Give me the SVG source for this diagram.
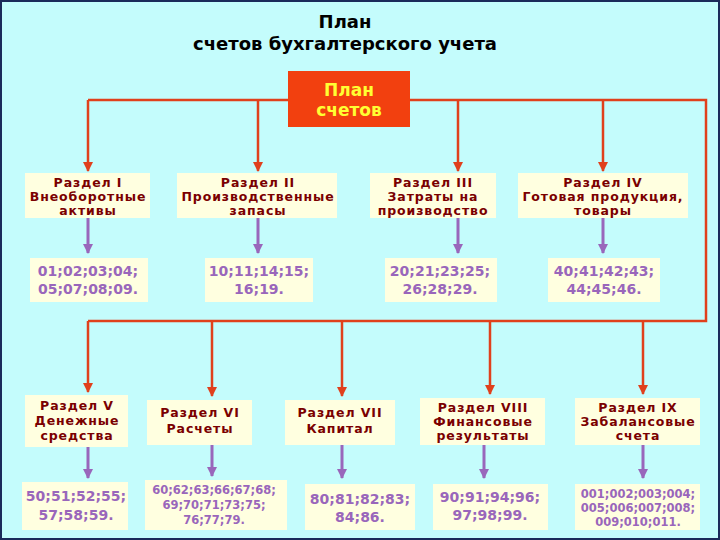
<svg xmlns="http://www.w3.org/2000/svg" width="720" height="540" viewBox="0 0 720 540">
<style>
.sec rect{fill:#ffffe0}
.sec text{font-family:"DejaVu Sans",sans-serif;font-weight:bold;font-size:12.5px;letter-spacing:0.9px;fill:#7a0000;text-anchor:middle}
.code rect{fill:#ffffe0}
.code text{font-family:"DejaVu Sans",sans-serif;font-weight:bold;font-size:14px;fill:#9966bb;text-anchor:middle}
.code text.s{font-size:11.5px}
.r{stroke:#e0401c;stroke-width:2.5;fill:none}
.rl{stroke:#e0401c;stroke-width:2.5;fill:none;marker-end:url(#ar)}
.p{stroke:#9966bb;stroke-width:3;fill:none;marker-end:url(#ap)}
</style>
<defs>
<marker id="ar" viewBox="0 0 10 10" refX="9" refY="5" markerWidth="4" markerHeight="4" orient="auto"><path d="M0,0L10,5L0,10z" fill="#e0401c"/></marker>
<marker id="ap" viewBox="0 0 10 10" refX="9" refY="5" markerWidth="3.5" markerHeight="3.5" orient="auto"><path d="M0,0L10,5L0,10z" fill="#9966bb"/></marker>
</defs>
<rect x="0" y="0" width="720" height="540" fill="#c4fcfc"/>
<rect x="1" y="1" width="718" height="538" fill="none" stroke="#1a2a5a" stroke-width="2"/>
<g id="title" font-family="DejaVu Sans,sans-serif" font-size="18" font-weight="bold" text-anchor="middle" fill="#000">
<text x="345" y="28">План</text><text x="345" y="50">счетов бухгалтерского учета</text></g>
<g id="connectors">
<path class="r" d="M88,100H706V321H88"/>
<path class="rl" d="M88,100V171"/><path class="rl" d="M258,100V171"/><path class="rl" d="M458,100V171"/><path class="rl" d="M603,100V171"/>
<path class="rl" d="M88,321V392"/><path class="rl" d="M212,321V396"/><path class="rl" d="M342,321V396"/><path class="rl" d="M490,321V394"/><path class="rl" d="M643,321V394"/>
<path class="p" d="M88,218V253"/><path class="p" d="M258,218V253"/><path class="p" d="M458,218V253"/><path class="p" d="M603,218V253"/>
<path class="p" d="M88,447V478"/><path class="p" d="M212,445V476"/><path class="p" d="M342,445V478"/><path class="p" d="M484,445V478"/><path class="p" d="M643,445V478"/>
</g>
<g id="root"><rect x="288" y="71" width="122" height="56" fill="#f2400f"/>
<text font-family="DejaVu Sans,sans-serif" font-size="17" font-weight="bold" fill="#ffff33" text-anchor="middle"><tspan x="349" y="96">План</tspan><tspan x="349" y="116">счетов</tspan></text></g>
<g id="s1" class="sec"><rect x="25" y="173" width="125" height="45"/><text><tspan x="88" y="187">Раздел I</tspan><tspan x="88" y="201">Внеоборотные</tspan><tspan x="88" y="215">активы</tspan></text></g>
<g id="s2" class="sec"><rect x="177" y="173" width="160" height="45"/><text><tspan x="258" y="187">Раздел II</tspan><tspan x="258" y="201">Производственные</tspan><tspan x="258" y="215">запасы</tspan></text></g>
<g id="s3" class="sec"><rect x="370" y="173" width="126" height="45"/><text><tspan x="433" y="187">Раздел III</tspan><tspan x="433" y="201">Затраты на</tspan><tspan x="433" y="215">производство</tspan></text></g>
<g id="s4" class="sec"><rect x="518" y="173" width="170" height="45"/><text><tspan x="603" y="187">Раздел IV</tspan><tspan x="603" y="201">Готовая продукция,</tspan><tspan x="603" y="215">товары</tspan></text></g>
<g id="c1" class="code"><rect x="30" y="258" width="118" height="44"/><text><tspan x="88" y="276">01;02;03;04;</tspan><tspan x="88" y="294">05;07;08;09.</tspan></text></g>
<g id="c2" class="code"><rect x="205" y="258" width="108" height="44"/><text><tspan x="259" y="276">10;11;14;15;</tspan><tspan x="259" y="294">16;19.</tspan></text></g>
<g id="c3" class="code"><rect x="385" y="258" width="112" height="44"/><text><tspan x="440" y="276">20;21;23;25;</tspan><tspan x="440" y="294">26;28;29.</tspan></text></g>
<g id="c4" class="code"><rect x="548" y="258" width="112" height="44"/><text><tspan x="604" y="276">40;41;42;43;</tspan><tspan x="604" y="294">44;45;46.</tspan></text></g>
<g id="s5" class="sec"><rect x="25" y="395" width="103" height="52"/><text><tspan x="77" y="410">Раздел V</tspan><tspan x="77" y="425">Денежные</tspan><tspan x="77" y="440">средства</tspan></text></g>
<g id="s6" class="sec"><rect x="147" y="400" width="105" height="45"/><text><tspan x="200" y="417">Раздел VI</tspan><tspan x="200" y="433">Расчеты</tspan></text></g>
<g id="s7" class="sec"><rect x="285" y="400" width="110" height="45"/><text><tspan x="340" y="417">Раздел VII</tspan><tspan x="340" y="433">Капитал</tspan></text></g>
<g id="s8" class="sec"><rect x="420" y="398" width="125" height="47"/><text><tspan x="483" y="412">Раздел VIII</tspan><tspan x="483" y="426">Финансовые</tspan><tspan x="483" y="440">результаты</tspan></text></g>
<g id="s9" class="sec"><rect x="575" y="398" width="125" height="47"/><text><tspan x="638" y="412">Раздел IX</tspan><tspan x="638" y="426">Забалансовые</tspan><tspan x="638" y="440">счета</tspan></text></g>
<g id="c5" class="code"><rect x="22" y="482" width="106" height="48"/><text><tspan x="76" y="501">50;51;52;55;</tspan><tspan x="76" y="520">57;58;59.</tspan></text></g>
<g id="c6" class="code"><rect x="145" y="480" width="142" height="50"/><text class="s"><tspan x="214" y="494">60;62;63;66;67;68;</tspan><tspan x="214" y="509">69;70;71;73;75;</tspan><tspan x="214" y="524">76;77;79.</tspan></text></g>
<g id="c7" class="code"><rect x="305" y="484" width="110" height="46"/><text><tspan x="360" y="504">80;81;82;83;</tspan><tspan x="360" y="522">84;86.</tspan></text></g>
<g id="c8" class="code"><rect x="433" y="484" width="115" height="46"/><text><tspan x="490" y="502">90;91;94;96;</tspan><tspan x="490" y="520">97;98;99.</tspan></text></g>
<g id="c9" class="code"><rect x="575" y="484" width="125" height="46"/><text class="s"><tspan x="638" y="498">001;002;003;004;</tspan><tspan x="638" y="512">005;006;007;008;</tspan><tspan x="638" y="526">009;010;011.</tspan></text></g>
</svg>
